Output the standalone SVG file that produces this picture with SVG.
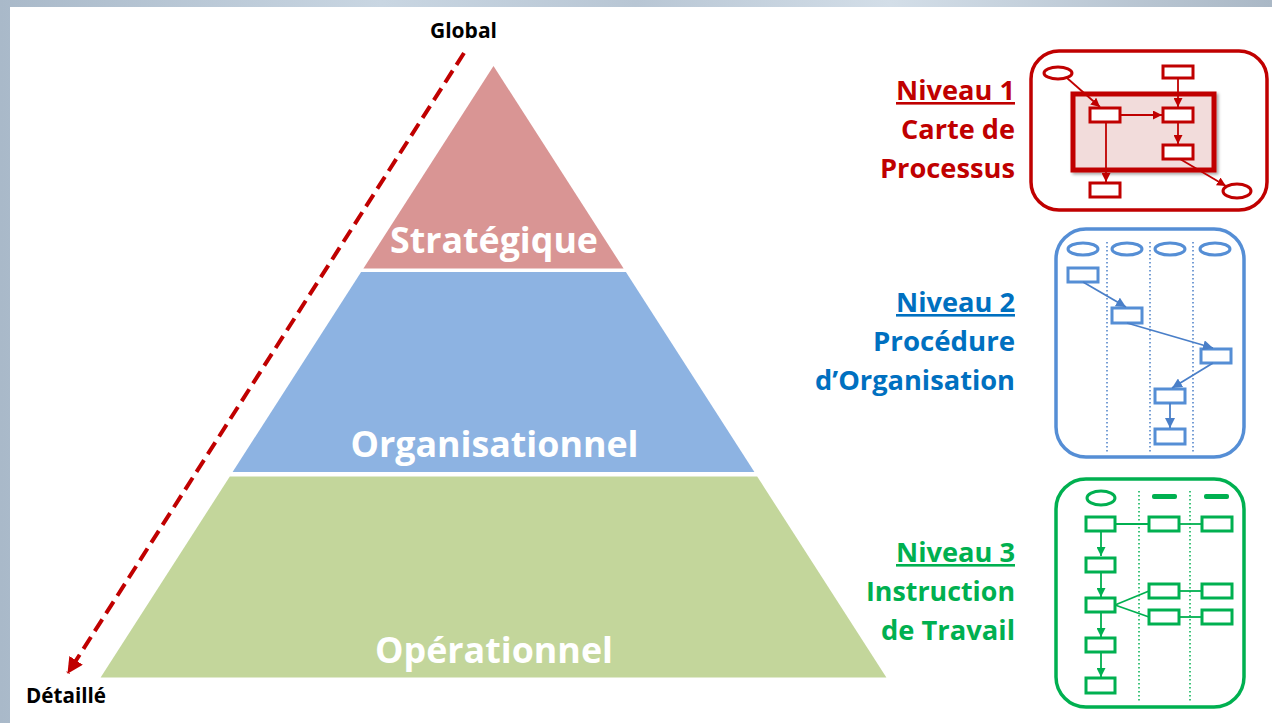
<svg xmlns="http://www.w3.org/2000/svg" width="1272" height="723" viewBox="0 0 1272 723">
<defs>
<linearGradient id="bg" x1="0" y1="0" x2="1" y2="0">
<stop offset="0" stop-color="#a9b9c9"/>
<stop offset="0.3" stop-color="#c9d6e2"/>
<stop offset="0.5" stop-color="#b8c6d4"/>
<stop offset="0.7" stop-color="#d3dee8"/>
<stop offset="1" stop-color="#aab8c6"/>
</linearGradient>
<marker id="arrRedBig" markerUnits="userSpaceOnUse" markerWidth="16" markerHeight="16" viewBox="0 0 16 16" refX="15" refY="8" orient="auto">
<path d="M0,0 L16,8 L0,16 z" fill="#c00000"/>
</marker>
<marker id="aR" markerUnits="userSpaceOnUse" markerWidth="9" markerHeight="9" viewBox="0 0 10 10" refX="10" refY="5" orient="auto">
<path d="M0,0 L10,5 L0,10 z" fill="#c00000"/>
</marker>
<marker id="aB" markerUnits="userSpaceOnUse" markerWidth="10" markerHeight="10" viewBox="0 0 10 10" refX="10" refY="5" orient="auto">
<path d="M0,0 L10,5 L0,10 z" fill="#4a7fc8"/>
</marker>
<marker id="aG" markerUnits="userSpaceOnUse" markerWidth="9" markerHeight="9" viewBox="0 0 10 10" refX="10" refY="5" orient="auto">
<path d="M0,0 L10,5 L0,10 z" fill="#00b050"/>
</marker>
<filter id="sh" x="-10%" y="-10%" width="130%" height="130%">
<feDropShadow dx="2" dy="2" stdDeviation="1.5" flood-color="#000" flood-opacity="0.35"/>
</filter>
</defs>
<style>
text{font-variant-ligatures:none}
.lvl{font-family:"Open Sans","Liberation Sans",sans-serif;font-weight:bold;font-size:35px;fill:#ffffff;text-anchor:middle}
.lbl{font-family:"Open Sans","Liberation Sans",sans-serif;font-weight:bold;font-size:26px;text-anchor:end}
.axis{font-family:"Open Sans","Liberation Sans",sans-serif;font-weight:bold;font-size:21px;fill:#000000}
.red{fill:#c00000}.blue{fill:#0070c0}.green{fill:#00b050}
.ir{fill:#ffffff;stroke:#c00000;stroke-width:3}
.ib{fill:#ffffff;stroke:#558ed5;stroke-width:3}
.ig{fill:#ffffff;stroke:#00b050;stroke-width:3}
.lr{stroke:#c00000;stroke-width:1.8;fill:none}
.lb{stroke:#4a7fc8;stroke-width:1.8;fill:none}
.lg{stroke:#00b050;stroke-width:1.8;fill:none}
.dotb{stroke:#4a7fc8;stroke-width:1.5;stroke-dasharray:1.5 2.5}
.dotg{stroke:#00b050;stroke-width:1.5;stroke-dasharray:1.5 2.5}
</style>
<rect x="0" y="0" width="1272" height="723" fill="url(#bg)"/>
<rect x="10" y="7" width="1262" height="716" fill="#ffffff"/>

<g id="pyramid-strategique">
<polygon points="493.5,66 623.6,268.5 363.4,268.5" fill="#d99594"/>
<text class="lvl" x="494" y="253" textLength="208" lengthAdjust="spacingAndGlyphs">Stratégique</text>
</g>
<g id="pyramid-organisationnel">
<polygon points="361.1,272 625.9,272 754.4,472 232.6,472" fill="#8db3e2"/>
<text class="lvl" x="494.5" y="457" textLength="288" lengthAdjust="spacingAndGlyphs">Organisationnel</text>
</g>
<g id="pyramid-operationnel">
<polygon points="229.8,476.5 757.2,476.5 886.4,677.5 100.6,677.5" fill="#c3d69b"/>
<text class="lvl" x="494" y="663" textLength="238" lengthAdjust="spacingAndGlyphs">Opérationnel</text>
</g>

<g id="connectors">
<line x1="464" y1="53" x2="68" y2="673" stroke="#c00000" stroke-width="4" stroke-dasharray="14 7" marker-end="url(#arrRedBig)"/>
</g>

<g id="label-global"><text class="axis" x="463.5" y="38" text-anchor="middle" textLength="67" lengthAdjust="spacingAndGlyphs">Global</text></g>
<g id="label-detaille"><text class="axis" x="26" y="703" textLength="80" lengthAdjust="spacingAndGlyphs">Détaillé</text></g>

<g id="label-niveau1">
<text class="lbl red" x="1015" y="100" text-decoration="underline" textLength="119" lengthAdjust="spacingAndGlyphs">Niveau 1</text>
<text class="lbl red" x="1015" y="139" textLength="114" lengthAdjust="spacingAndGlyphs">Carte de</text>
<text class="lbl red" x="1015" y="178" textLength="135" lengthAdjust="spacingAndGlyphs">Processus</text>
</g>
<g id="label-niveau2">
<text class="lbl blue" x="1015" y="312" text-decoration="underline" textLength="119" lengthAdjust="spacingAndGlyphs">Niveau 2</text>
<text class="lbl blue" x="1015" y="351" textLength="142" lengthAdjust="spacingAndGlyphs">Procédure</text>
<text class="lbl blue" x="1015" y="390" textLength="200" lengthAdjust="spacingAndGlyphs">d’Organisation</text>
</g>
<g id="label-niveau3">
<text class="lbl green" x="1015" y="562" text-decoration="underline" textLength="119" lengthAdjust="spacingAndGlyphs">Niveau 3</text>
<text class="lbl green" x="1015" y="601" textLength="149" lengthAdjust="spacingAndGlyphs">Instruction</text>
<text class="lbl green" x="1015" y="640" textLength="134" lengthAdjust="spacingAndGlyphs">de Travail</text>
</g>

<g id="icon-niveau1">
<rect x="1031" y="51" width="236" height="159" rx="28" fill="#ffffff" stroke="#c00000" stroke-width="3.5"/>
<rect x="1073" y="94" width="141" height="76" fill="#f2dcdb" stroke="#c00000" stroke-width="5" filter="url(#sh)"/>
<ellipse cx="1058" cy="73" rx="14" ry="6" class="ir"/>
<rect x="1163" y="66" width="30" height="12" class="ir"/>
<rect x="1090" y="108" width="30" height="14" class="ir"/>
<rect x="1163" y="108" width="30" height="14" class="ir"/>
<rect x="1163" y="145" width="30" height="14" class="ir"/>
<rect x="1090" y="183" width="30" height="14" class="ir"/>
<ellipse cx="1237" cy="191" rx="14" ry="7" class="ir"/>
<line x1="1067" y1="78" x2="1100" y2="107" class="lr" marker-end="url(#aR)"/>
<line x1="1120" y1="115" x2="1162" y2="115" class="lr" marker-end="url(#aR)"/>
<line x1="1178" y1="78" x2="1178" y2="107" class="lr" marker-end="url(#aR)"/>
<line x1="1178" y1="122" x2="1178" y2="144" class="lr" marker-end="url(#aR)"/>
<line x1="1106" y1="122" x2="1106" y2="182" class="lr" marker-end="url(#aR)"/>
<line x1="1180" y1="159" x2="1226" y2="186" class="lr" marker-end="url(#aR)"/>
</g>

<g id="icon-niveau2">
<rect x="1056" y="229" width="188" height="228" rx="30" fill="#ffffff" stroke="#558ed5" stroke-width="3.5"/>
<line x1="1107" y1="242" x2="1107" y2="452" class="dotb"/>
<line x1="1150" y1="242" x2="1150" y2="452" class="dotb"/>
<line x1="1193" y1="242" x2="1193" y2="452" class="dotb"/>
<ellipse cx="1083" cy="249" rx="15" ry="6" class="ib"/>
<ellipse cx="1127" cy="249" rx="15" ry="6" class="ib"/>
<ellipse cx="1170" cy="249" rx="15" ry="6" class="ib"/>
<ellipse cx="1215" cy="249" rx="15" ry="6" class="ib"/>
<rect x="1068" y="268" width="30" height="14" class="ib"/>
<rect x="1112" y="308" width="30" height="15" class="ib"/>
<rect x="1201" y="349" width="30" height="14" class="ib"/>
<rect x="1155" y="389" width="30" height="14" class="ib"/>
<rect x="1155" y="429" width="30" height="15" class="ib"/>
<line x1="1083" y1="282" x2="1126" y2="307" class="lb" marker-end="url(#aB)"/>
<line x1="1127" y1="323" x2="1213" y2="348" class="lb" marker-end="url(#aB)"/>
<line x1="1213" y1="363" x2="1172" y2="388" class="lb" marker-end="url(#aB)"/>
<line x1="1170" y1="403" x2="1170" y2="428" class="lb" marker-end="url(#aB)"/>
</g>

<g id="icon-niveau3">
<rect x="1056" y="479" width="188" height="228" rx="30" fill="#ffffff" stroke="#00b050" stroke-width="3.5"/>
<line x1="1139" y1="491" x2="1139" y2="702" class="dotg"/>
<line x1="1190" y1="491" x2="1190" y2="702" class="dotg"/>
<ellipse cx="1101" cy="498" rx="14" ry="7" class="ig"/>
<rect x="1152" y="494" width="25" height="5" rx="2" fill="#00b050"/>
<rect x="1204" y="494" width="25" height="5" rx="2" fill="#00b050"/>
<line x1="1115" y1="524" x2="1149" y2="524" class="lg"/>
<line x1="1179" y1="524" x2="1202" y2="524" class="lg"/>
<line x1="1179" y1="591" x2="1202" y2="591" class="lg"/>
<line x1="1179" y1="617" x2="1202" y2="617" class="lg"/>
<line x1="1115" y1="605" x2="1149" y2="591" class="lg"/>
<line x1="1115" y1="605" x2="1149" y2="617" class="lg"/>
<line x1="1101" y1="531" x2="1101" y2="556" class="lg" marker-end="url(#aG)"/>
<line x1="1101" y1="572" x2="1101" y2="597" class="lg" marker-end="url(#aG)"/>
<line x1="1101" y1="612" x2="1101" y2="637" class="lg" marker-end="url(#aG)"/>
<line x1="1101" y1="652" x2="1101" y2="677" class="lg" marker-end="url(#aG)"/>
<rect x="1086" y="517" width="29" height="14" class="ig"/>
<rect x="1086" y="558" width="29" height="14" class="ig"/>
<rect x="1086" y="598" width="29" height="14" class="ig"/>
<rect x="1086" y="638" width="29" height="14" class="ig"/>
<rect x="1086" y="678" width="29" height="15" class="ig"/>
<rect x="1149" y="517" width="30" height="14" class="ig"/>
<rect x="1202" y="517" width="30" height="14" class="ig"/>
<rect x="1149" y="584" width="30" height="14" class="ig"/>
<rect x="1202" y="584" width="30" height="14" class="ig"/>
<rect x="1149" y="610" width="30" height="14" class="ig"/>
<rect x="1202" y="610" width="30" height="14" class="ig"/>
</g>
</svg>
